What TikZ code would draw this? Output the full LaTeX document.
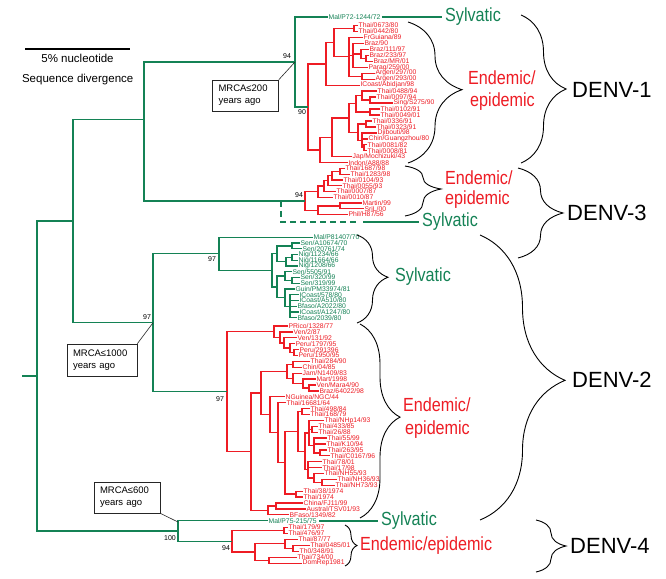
\documentclass[tikz,border=0pt]{standalone}
\usepackage{fontspec}
\setmainfont{Liberation Sans}
\newfontfamily\bigfont[FakeStretch=0.85]{Liberation Sans}
\usetikzlibrary{decorations.pathreplacing}
\definecolor{sylg}{RGB}{20,130,85}
\definecolor{endr}{RGB}{238,28,36}
\newcommand\jn[4]{\draw[#1] (#3) -| (#2 |- #4) -- (#4);}
\newcommand\jm[3]{\draw[#1] (#2 |- #3) -- (#3);}
\newcommand\lfr[3]{\node[lr] (#1) at (#2) {#3};}
\newcommand\lfg[3]{\node[lg] (#1) at (#2) {#3};}
\begin{document}
\begin{tikzpicture}[x=1pt,y=-1pt,
  gbr/.style={draw=sylg,line width=1.35pt},
  rbr/.style={draw=endr,line width=1.35pt},
  gsl/.style={draw=sylg,line width=2pt},
  lf/.style={anchor=west,inner sep=0.4pt,font=\fontsize{6.8}{7}\selectfont},
  lg/.style={lf,text=sylg},
  lr/.style={lf,text=endr},
  bigg/.style={anchor=west,inner sep=0pt,text=sylg,font=\bigfont\fontsize{19}{19}\selectfont},
  bigr/.style={anchor=west,inner sep=0pt,text=endr,font=\bigfont\fontsize{19}{19}\selectfont},
  denv/.style={anchor=west,inner sep=0pt,font=\fontsize{22}{22}\selectfont},
  boot/.style={inner sep=0pt,font=\fontsize{7}{7}\selectfont},
  mbox/.style={draw=black!85,line width=0.7pt,align=left,inner xsep=6pt,inner ysep=0pt,font=\fontsize{9.5}{12}\selectfont},
  pin/.style={draw=black!85,line width=0.6pt},
  brc/.style={draw=black,line width=0.9pt,decorate}]
\path[use as bounding box,fill=white] (0,0) rectangle (666,578);

% scale bar
\coordinate (sb1) at (25,49); \coordinate (sb2) at (130,49);
\draw[line width=1.1pt] (sb1) -- (sb2);
\node[font=\fontsize{11.5}{12}\selectfont,inner sep=0pt] (sbt1) at (77.5,58) {5\% nucleotide};
\node[font=\fontsize{11.5}{12}\selectfont,inner sep=0pt] (sbt2) at (77.7,80) {Sequence divergence};

% ---------------- DENV-1 leaves
\lfg{mp72}{328,17}{Mal/P72-1244/72}
\lfr{a01}{358,25.5}{Thai/0673/80}
\lfr{a02}{358,31.5}{Thai/0442/80}
\lfr{a03}{363,37.4}{FrGuiana/89}
\lfr{a04}{364,43.4}{Braz/90}
\lfr{a05}{369,49.4}{Braz/111/97}
\lfr{a06}{369,55.3}{Braz/233/97}
\lfr{a07}{373,61.3}{Braz/MR/01}
\lfr{a08}{368,67.3}{Parag/259/00}
\lfr{a09}{375,73.2}{Argen/297/00}
\lfr{a10}{375,79.2}{Argen/293/00}
\lfr{a11}{360,85.2}{ICoast/Abidjan/98}
\lfr{a12}{377,91.1}{Thai/0488/94}
\lfr{a13}{376,97.1}{Thai/0097/94}
\lfr{a14}{393,103.1}{Sing/S275/90}
\lfr{a15}{380,109}{Thai/0102/91}
\lfr{a16}{380,115}{Thai/0049/01}
\lfr{a17}{372,121}{Thai/0336/91}
\lfr{a18}{376,126.9}{Thai/0323/91}
\lfr{a19}{377,132.9}{Djibouti/98}
\lfr{a20}{368,138.9}{Chin/Guangzhou/80}
\lfr{a21}{367,144.8}{Thai/0081/82}
\lfr{a22}{367,150.8}{Thai/0008/81}
\lfr{a23}{352,156.7}{Jap/Mochizuki/43}
\lfr{a24}{348,162.7}{Indon/A88/88}

\coordinate (t1) at (354,28.5);
\coordinate (dd) at (366,58.3);
\coordinate (cc) at (361,53.85);
\coordinate (bb) at (353,55.35);
\coordinate (ag) at (362,76.2);
\coordinate (am) at (349,56.8);
\coordinate (a1) at (334,42.65);
\coordinate (AA) at (326,63.9);
\coordinate (qq) at (370,100.1);
\coordinate (p1) at (362,95.6);
\coordinate (p2) at (370,112);
\coordinate (B3) at (356,103.8);
\coordinate (r1) at (366,124);
\coordinate (r3) at (364,147.8);
\coordinate (r2) at (362,140.35);
\coordinate (B4) at (358,132.2);
\coordinate (B2) at (349,118);
\coordinate (B1) at (332,137.35);
\coordinate (BB) at (320,150);
\coordinate (R1) at (308,107);
\coordinate (N295) at (295,62);

\jn{rbr}{t1}{a01.west}{a02.west}
\jn{rbr}{dd}{a06.west}{a07.west}
\jn{rbr}{cc}{a05.west}{dd}
\jn{rbr}{bb}{a04.west}{a08.west}
\jm{rbr}{bb}{cc}
\jn{rbr}{ag}{a09.west}{a10.west}
\jn{rbr}{am}{a03.west}{ag}
\jm{rbr}{am}{bb}
\jn{rbr}{a1}{t1}{am}
\jn{rbr}{AA}{a1}{a11.west}
\jn{rbr}{qq}{a13.west}{a14.west}
\jn{rbr}{p1}{a12.west}{qq}
\jn{rbr}{p2}{a15.west}{a16.west}
\jn{rbr}{B3}{p1}{p2}
\jn{rbr}{r1}{a17.west}{a18.west}
\jn{rbr}{r3}{a21.west}{a22.west}
\jn{rbr}{r2}{a19.west}{r3}
\jm{rbr}{r2}{a20.west}
\jn{rbr}{B4}{r1}{r2}
\jn{rbr}{B2}{B3}{B4}
\jn{rbr}{B1}{B2}{a23.west}
\jn{rbr}{BB}{B1}{a24.west}
\jn{rbr}{R1}{AA}{BB}
\jn{gbr}{N295}{mp72.west}{R1}

% ---------------- DENV-3
\lfr{b1}{345,168.5}{Thai/1687/98}
\lfr{b2}{350,174.3}{Thai/1283/98}
\lfr{b3}{343,180}{Thai/0104/93}
\lfr{b4}{342,185.8}{Thai/0055/93}
\lfr{b5}{336,191.5}{Thai/0007/87}
\lfr{b6}{333,197.3}{Thai/0010/87}
\lfr{b7}{362,203}{Martin/99}
\lfr{b8}{364,208.8}{SriL/00}
\lfr{b9}{348,214.5}{Phil/H87/56}
\coordinate (s4) at (340,171.4);
\coordinate (s3) at (332,175.7);
\coordinate (s2) at (328,180.75);
\coordinate (s1) at (324,186.1);
\coordinate (D3a) at (318,191.7);
\coordinate (ms) at (340,205.9);
\coordinate (D3b) at (318,210.2);
\coordinate (D3) at (305,200.95);
\jn{rbr}{s4}{b1.west}{b2.west}
\jn{rbr}{s3}{s4}{b3.west}
\jn{rbr}{s2}{s3}{b4.west}
\jn{rbr}{s1}{s2}{b5.west}
\jn{rbr}{D3a}{s1}{b6.west}
\jn{rbr}{ms}{b7.west}{b8.west}
\jn{rbr}{D3b}{ms}{b9.west}
\jn{rbr}{D3}{D3a}{D3b}

% ---------------- backbone
\coordinate (N144) at (144,119.3);
\coordinate (N73) at (73,221);
\coordinate (N153) at (153,322.75);
\coordinate (N219) at (219,253.8);
\coordinate (N178) at (178,530.95);
\coordinate (N37) at (37,376);
\coordinate (rootstub) at (22,376);
\jn{gbr}{N144}{N295}{D3}
\jn{gbr}{N73}{N144}{N153}
\jn{gbr}{N37}{N73}{N178}
\draw[gbr] (rootstub) -- (N37);

% DENV-3 sylvatic (dashed)
\coordinate (dsh) at (281,200.95);
\coordinate (dsh2) at (281,222);
\coordinate (dshend) at (358,222);
\coordinate (solidst) at (363,222);
\draw[gbr,dash pattern=on 6pt off 4pt] (dsh) -- (dsh2) -- (dshend);
\node[bigg] (syl3) at (422,222) {Sylvatic};
\draw[gsl,shorten >=3pt] (solidst) -- (syl3.west);

% ---------------- DENV-2 sylvatic
\lfg{c00}{313,237.3}{Mal/P81407/70}
\lfg{c01}{300,243}{Sen/A10674/70}
\lfg{c02}{302,248.8}{Sen/20761/74}
\lfg{c03}{298,254.5}{Nig/11234/66}
\lfg{c04}{298,260.3}{Nig/11664/66}
\lfg{c05}{298,266}{Nig/1208/66}
\lfg{c06}{292,271.8}{Sen/5505/91}
\lfg{c07}{300,277.5}{Sen/320/99}
\lfg{c08}{300,283.3}{Sen/319/99}
\lfg{c09}{295,289}{Guin/PM33974/81}
\lfg{c10}{299,294.8}{ICoast/578/80}
\lfg{c11}{299,300.5}{ICoast/A510/80}
\lfg{c12}{297,306.3}{Bfaso/A2022/80}
\lfg{c13}{299,312}{ICoast/A1247/80}
\lfg{c14}{297,317.8}{Bfaso/2039/80}
\coordinate (n1) at (292,245.9);
\coordinate (n3) at (292,257.4);
\coordinate (n2) at (286,261.7);
\coordinate (S2) at (277,253.8);
\coordinate (m1b) at (292,280.4);
\coordinate (m1) at (285,276.1);
\coordinate (m2b) at (290,306.3);
\coordinate (m2) at (285,297.65);
\coordinate (S3) at (277,286.9);
\coordinate (S1) at (272,270.35);
\jn{gbr}{n1}{c01.west}{c02.west}
\jn{gbr}{n3}{c03.west}{c04.west}
\jn{gbr}{n2}{n3}{c05.west}
\jn{gbr}{S2}{n1}{n2}
\jn{gbr}{m1b}{c07.west}{c08.west}
\jn{gbr}{m1}{c06.west}{m1b}
\jn{gbr}{m2b}{c10.west}{c14.west}
\jm{gbr}{m2b}{c11.west}
\jm{gbr}{m2b}{c12.west}
\jm{gbr}{m2b}{c13.west}
\jn{gbr}{m2}{c09.west}{m2b}
\jn{gbr}{S3}{m1}{m2}
\jn{gbr}{S1}{S2}{S3}
\jn{gbr}{N219}{c00.west}{S1}

% ---------------- DENV-2 endemic
\lfr{d00}{288,326}{PRico/1328/77}
\lfr{d01}{293,331.9}{Ven/2/87}
\lfr{d02}{297,337.8}{Ven/131/92}
\lfr{d03}{295,343.7}{Peru/1797/95}
\lfr{d04}{299,349.6}{Peru/291396}
\lfr{d05}{298,355.5}{Peru/1950/95}
\lfr{d06}{310,361.4}{Thai/284/90}
\lfr{d07}{302,367.3}{Chin/04/85}
\lfr{d08}{302,373.2}{Jam/N1409/83}
\lfr{d09}{316,379.1}{Mart/1998}
\lfr{d10}{316,385}{Ven/Mara4/90}
\lfr{d11}{319,390.9}{Braz/64022/98}
\lfr{d12}{285,396.8}{NGuinea/NGC/44}
\lfr{d13}{286,402.7}{Thai/16681/64}
\lfr{d14}{310,408.6}{Thai/498/84}
\lfr{d15}{310,414.5}{Thai/168/79}
\lfr{d16}{324,420.4}{Thai/NHp14/93}
\lfr{d17}{318,426.3}{Thai/433/85}
\lfr{d18}{318,432.2}{Thai/26/88}
\lfr{d19}{327,438.1}{Thai/55/99}
\lfr{d20}{326,444}{Thai/K10/94}
\lfr{d21}{327,449.9}{Thai/263/95}
\lfr{d22}{330,455.8}{Thai/C0167/96}
\lfr{d23}{322,461.7}{Thai/78/01}
\lfr{d24}{322,467.6}{Thai/17/98}
\lfr{d25}{324,473.5}{Thai/NH55/93}
\lfr{d26}{337,479.4}{Thai/NH36/93}
\lfr{d27}{335,485.3}{Thai/NH73/93}
\lfr{d28}{303,491.2}{Thai/38/1974}
\lfr{d29}{303,497.1}{Thai/1974}
\lfr{d30}{303,503}{China/FJ11/99}
\lfr{d31}{306,508.9}{Austral/TSV01/93}
\lfr{d32}{289,514.8}{BFaso/1349/82}
\lfg{e00}{268,520.7}{Mal/P75-215/75}
\coordinate (P) at (274,331.7);
\coordinate (P1) at (280,337.4);
\coordinate (P2) at (284,342.95);
\coordinate (P3) at (290,348.1);
\coordinate (P4) at (294,352.55);
\coordinate (Q3a) at (293,364.35);
\coordinate (Q3d) at (309,387.95);
\coordinate (Q3c) at (303,383.5);
\coordinate (Q3b) at (293,378.35);
\coordinate (Q3) at (287,371.35);
\coordinate (Q7a) at (302,411.55);
\coordinate (Q7e) at (312,429.25);
\coordinate (Q7g) at (320,452.85);
\coordinate (Q7f) at (314,445.5);
\coordinate (Q7c) at (309,432.95);
\coordinate (Q7i) at (322,482.35);
\coordinate (Q7h) at (314,477.9);
\coordinate (Q7d) at (308,469.8);
\coordinate (Q7b) at (305,451.4);
\coordinate (Q7) at (298,431.5);
\coordinate (Q8) at (296,494.15);
\coordinate (Q6) at (285,462.8);
\coordinate (Q5) at (278,432.75);
\coordinate (Q4) at (270,414.8);
\coordinate (Q1) at (261,393.1);
\coordinate (Q2a) at (276,505.95);
\coordinate (Q2) at (268,510.4);
\coordinate (QQ) at (251,451.75);
\coordinate (RR) at (227,391.7);
\jn{rbr}{P4}{d04.west}{d05.west}
\jn{rbr}{P3}{d03.west}{P4}
\jn{rbr}{P2}{d02.west}{P3}
\jn{rbr}{P1}{d01.west}{P2}
\jn{rbr}{P}{d00.west}{P1}
\jn{rbr}{Q3a}{d06.west}{d07.west}
\jn{rbr}{Q3d}{d10.west}{d11.west}
\jn{rbr}{Q3c}{d09.west}{Q3d}
\jn{rbr}{Q3b}{d08.west}{Q3c}
\jn{rbr}{Q3}{Q3a}{Q3b}
\jn{rbr}{Q7a}{d14.west}{d15.west}
\jn{rbr}{Q7e}{d17.west}{d18.west}
\jn{rbr}{Q7g}{d21.west}{d22.west}
\jn{rbr}{Q7f}{d19.west}{Q7g}
\jm{rbr}{Q7f}{d20.west}
\jn{rbr}{Q7c}{d16.west}{Q7f}
\jm{rbr}{Q7c}{Q7e}
\jn{rbr}{Q7i}{d26.west}{d27.west}
\jn{rbr}{Q7h}{d25.west}{Q7i}
\jn{rbr}{Q7d}{d23.west}{Q7h}
\jm{rbr}{Q7d}{d24.west}
\jn{rbr}{Q7b}{Q7c}{Q7d}
\jn{rbr}{Q7}{Q7a}{Q7b}
\jn{rbr}{Q8}{d28.west}{d29.west}
\jn{rbr}{Q6}{Q7}{Q8}
\jn{rbr}{Q5}{d13.west}{Q6}
\jn{rbr}{Q4}{d12.west}{Q5}
\jn{rbr}{Q1}{Q3}{Q4}
\jn{rbr}{Q2a}{d30.west}{d31.west}
\jn{rbr}{Q2}{Q2a}{d32.west}
\jn{rbr}{QQ}{Q1}{Q2}
\jn{rbr}{RR}{P}{QQ}
\jn{gbr}{N153}{N219}{RR}

% ---------------- DENV-4
\lfr{f0}{288,527.3}{Thai/179/97}
\lfr{f1}{288,533.3}{Thai/476/97}
\lfr{f2}{298,539.3}{Thai/87/77}
\lfr{f3}{310,545.3}{Thai/0485/01}
\lfr{f4}{299,551.3}{Th0/348/91}
\lfr{f5}{297,557.3}{Thai/734/00}
\lfr{f6}{302,563.3}{DomRep1981}
\coordinate (D4a) at (284,530.3);
\coordinate (D4e) at (293,548.3);
\coordinate (D4c) at (285,543.8);
\coordinate (D4d) at (269,560.3);
\coordinate (D4b) at (255,552.05);
\coordinate (D4) at (232,541.2);
\jn{rbr}{D4a}{f0.west}{f1.west}
\jn{rbr}{D4e}{f3.west}{f4.west}
\jn{rbr}{D4c}{f2.west}{D4e}
\jn{rbr}{D4d}{f5.west}{f6.west}
\jn{rbr}{D4b}{D4c}{D4d}
\jn{rbr}{D4}{D4a}{D4b}
\jn{gbr}{N178}{e00.west}{D4}

% ---------------- sylvatic labels
\node[bigg] (syl1) at (445,17) {Sylvatic};
\draw[gsl,shorten <=1pt,shorten >=3pt] (mp72.east) -- (syl1.west);
\node[bigg] (syl2) at (395,277) {Sylvatic};
\node[bigg] (syl4) at (381,520.7) {Sylvatic};
\draw[gsl,shorten <=2pt,shorten >=3pt] (e00.east) -- (syl4.west);

% ---------------- endemic labels
\node[bigr] (en1a) at (468,78) {Endemic/};
\node[bigr] (en1b) at (470,102) {epidemic};
\node[bigr] (en3a) at (445,178) {Endemic/};
\node[bigr] (en3b) at (445,200) {epidemic};
\node[bigr] (en2a) at (403,405) {Endemic/};
\node[bigr] (en2b) at (405,430) {epidemic};
\node[bigr] (en4) at (360,546) {Endemic/epidemic};

% ---------------- serotype labels
\node[denv] (dv1) at (572,90) {DENV-1};
\node[denv] (dv3) at (567,213) {DENV-3};
\node[denv] (dv2) at (572,380) {DENV-2};
\node[denv] (dv4) at (570,546) {DENV-4};

% ---------------- braces
\draw[brc,decoration={brace,amplitude=54pt,aspect=0.48}] (408,22) -- (408,163);
\draw[brc,decoration={brace,amplitude=45pt,aspect=0.5}] (521,15) -- (521,163);
\draw[brc,decoration={brace,amplitude=36pt,aspect=0.46}] (405,166) -- (405,216);
\draw[brc,decoration={brace,amplitude=45pt,aspect=0.5}] (518,168) -- (518,258);
\draw[brc,decoration={brace,amplitude=31pt,aspect=0.48}] (357,235) -- (357,323);
\draw[brc,decoration={brace,amplitude=40pt,aspect=0.48}] (360,324) -- (360,518);
\draw[brc,decoration={brace,amplitude=85pt,aspect=0.51}] (480,235) -- (480,520);
\draw[brc,decoration={brace,amplitude=12pt,aspect=0.5}] (345,525) -- (345,566);
\draw[brc,decoration={brace,amplitude=30pt,aspect=0.5}] (536,520) -- (536,572);

% ---------------- bootstrap values
\node[boot] (bs1) at (287,56) {94};
\node[boot] (bs2) at (302,112) {90};
\node[boot] (bs3) at (299,195) {94};
\node[boot] (bs4) at (212,259) {97};
\node[boot] (bs5) at (147,317) {97};
\node[boot] (bs6) at (220,399) {97};
\node[boot] (bs7) at (170,538) {100};
\node[boot] (bs8) at (226,548) {94};

% ---------------- MRCA boxes
\node[mbox,text width=54pt,minimum height=31pt] (mb1) at (245.5,95.5) {MRCA≤200\\years ago};
\node[mbox,text width=58pt,minimum height=32pt] (mb2) at (102,360) {MRCA≤1000\\years ago};
\node[mbox,text width=54pt,minimum height=31pt] (mb3) at (127,497.5) {MRCA≤600\\years ago};
\coordinate (N178t) at (178,522);
\draw[pin] (mb1.north east) -- (N295);
\draw[pin] (mb2.north east) -- (N153);
\draw[pin] (mb3.south east) -- (N178t);
\end{tikzpicture}
\end{document}
